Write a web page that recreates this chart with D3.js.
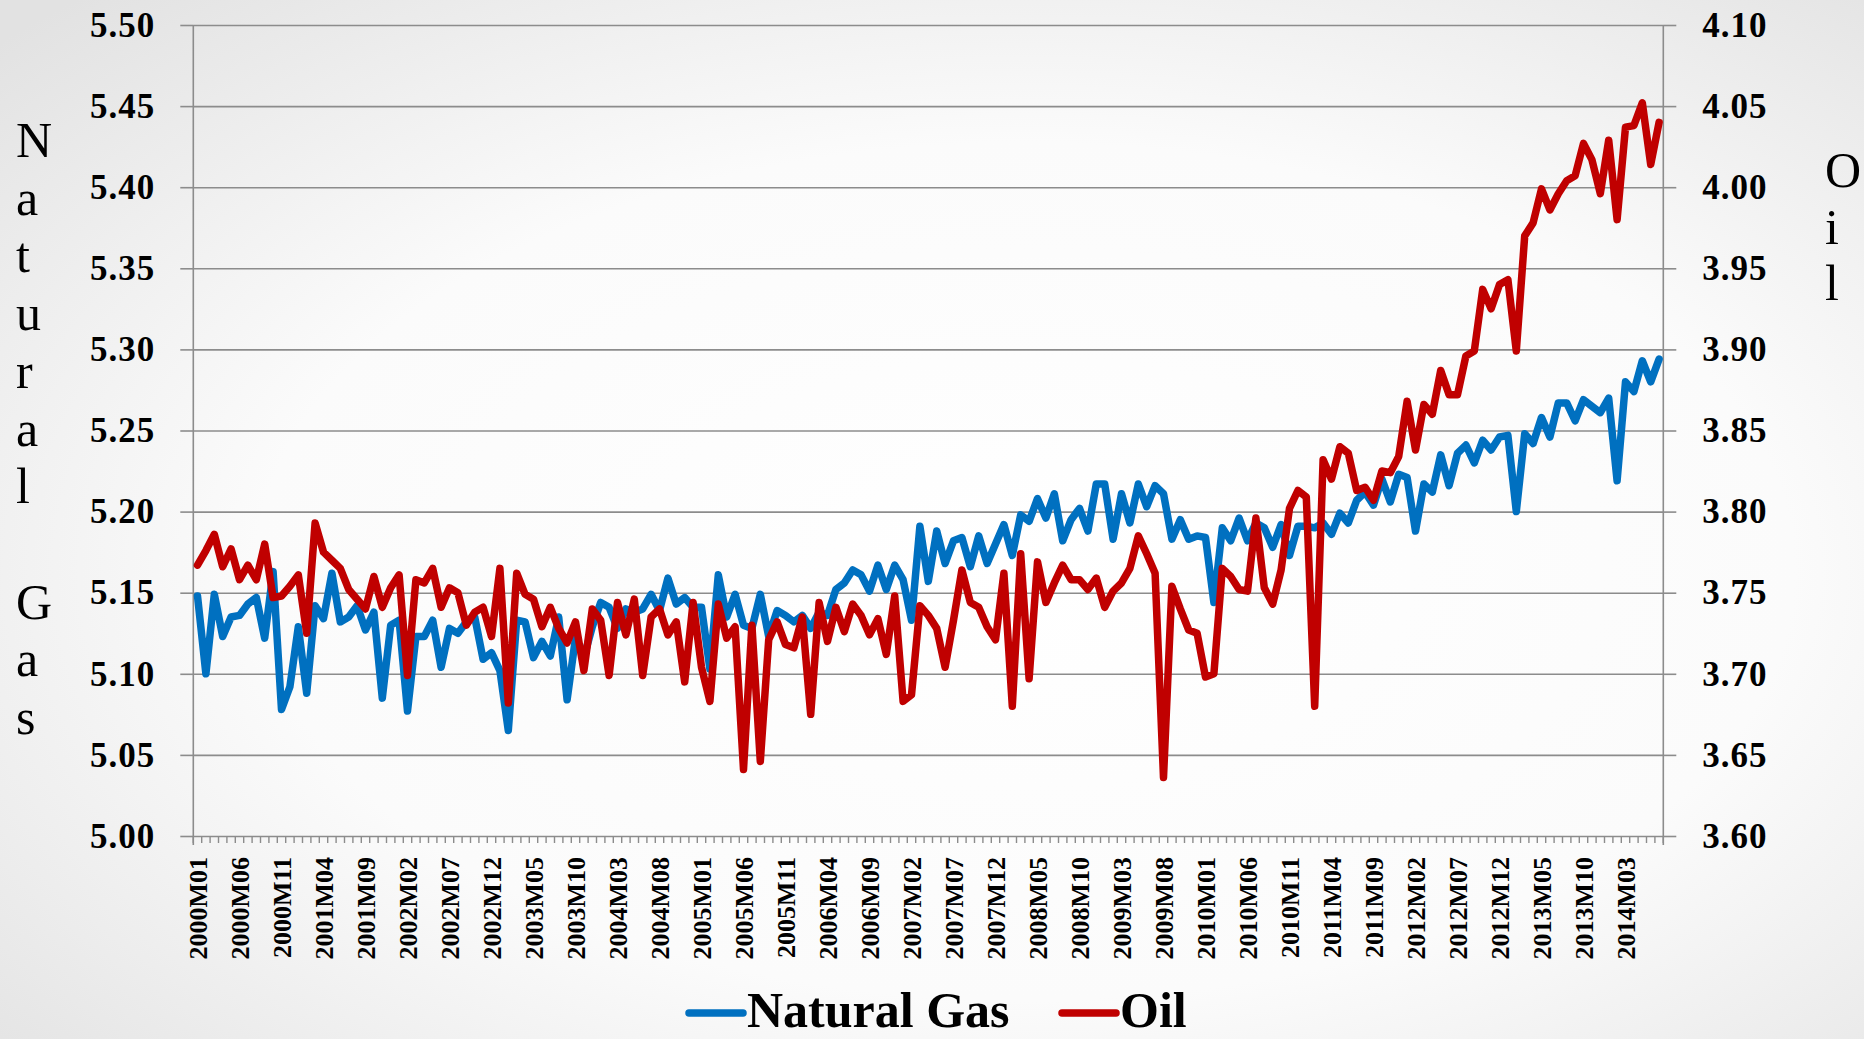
<!DOCTYPE html>
<html>
<head>
<meta charset="utf-8">
<script src="https://cdn.jsdelivr.net/npm/d3@7"></script>
<style>
  html, body { margin: 0; padding: 0; background: #ffffff; }
  svg { display: block; }
</style>
</head>
<body>
<svg id="chart" width="1864" height="1039"></svg>
<script>
// ---------------- DATA ----------------
const years = d3.range(2000, 2015);
const monthLabels = ["M01","M02","M03","M04","M05","M06","M07","M08","M09","M10","M11","M12"];
const categories = [];
years.forEach(y => monthLabels.forEach(m => { categories.push(y + m); }));
categories.splice(175); // 2000M01 .. 2014M07

const naturalGas = [
  5.148,5.100,5.149,5.123,5.135,5.136,5.143,5.147,5.122,5.163,
  5.078,5.092,5.129,5.088,5.142,5.134,5.162,5.132,5.135,5.142,
  5.127,5.138,5.085,5.130,5.133,5.077,5.123,5.123,5.133,5.104,
  5.128,5.125,5.132,5.135,5.109,5.113,5.102,5.065,5.133,5.132,
  5.110,5.120,5.111,5.135,5.084,5.122,5.110,5.129,5.144,5.141,
  5.128,5.140,5.138,5.140,5.149,5.139,5.159,5.143,5.147,5.141,
  5.141,5.103,5.161,5.135,5.149,5.130,5.128,5.149,5.123,5.139,
  5.136,5.132,5.136,5.128,5.138,5.136,5.152,5.156,5.164,5.161,
  5.151,5.167,5.152,5.167,5.158,5.133,5.191,5.157,5.188,5.168,
  5.182,5.184,5.166,5.185,5.168,5.180,5.192,5.173,5.198,5.194,
  5.208,5.196,5.211,5.182,5.195,5.202,5.188,5.217,5.217,5.183,
  5.211,5.193,5.217,5.203,5.216,5.211,5.183,5.195,5.183,5.185,
  5.184,5.144,5.190,5.182,5.196,5.182,5.193,5.190,5.178,5.192,
  5.173,5.191,5.191,5.190,5.193,5.186,5.199,5.193,5.207,5.212,
  5.204,5.220,5.206,5.223,5.221,5.188,5.217,5.212,5.235,5.216,
  5.236,5.241,5.230,5.244,5.238,5.246,5.247,5.200,5.248,5.242,
  5.258,5.246,5.267,5.267,5.256,5.269,5.265,5.261,5.270,5.219,
  5.280,5.274,5.293,5.280,5.294
];

const oil = [
  3.767,3.776,3.786,3.766,3.777,3.758,3.767,3.758,3.780,3.747,
  3.748,3.754,3.761,3.725,3.793,3.775,3.770,3.765,3.752,3.746,
  3.740,3.760,3.741,3.753,3.761,3.699,3.758,3.756,3.765,3.741,
  3.753,3.750,3.730,3.738,3.741,3.723,3.765,3.682,3.762,3.749,
  3.746,3.729,3.741,3.728,3.719,3.732,3.702,3.740,3.733,3.699,
  3.744,3.724,3.746,3.699,3.735,3.740,3.724,3.732,3.695,3.744,
  3.704,3.683,3.743,3.722,3.729,3.641,3.730,3.646,3.721,3.732,
  3.718,3.716,3.735,3.675,3.744,3.720,3.741,3.726,3.743,3.736,
  3.724,3.734,3.712,3.748,3.683,3.687,3.742,3.736,3.728,3.704,
  3.733,3.764,3.744,3.741,3.729,3.721,3.762,3.680,3.774,3.697,
  3.769,3.744,3.756,3.767,3.758,3.758,3.752,3.759,3.741,3.751,
  3.756,3.765,3.785,3.774,3.762,3.636,3.754,3.740,3.727,3.725,
  3.698,3.700,3.765,3.760,3.752,3.751,3.796,3.753,3.743,3.764,
  3.802,3.813,3.809,3.680,3.832,3.820,3.840,3.836,3.813,3.815,
  3.807,3.825,3.824,3.834,3.868,3.838,3.866,3.860,3.887,3.872,
  3.872,3.896,3.899,3.937,3.925,3.940,3.943,3.899,3.970,3.978,
  3.999,3.986,3.996,4.004,4.007,4.027,4.017,3.996,4.029,3.980,
  4.037,4.038,4.052,4.014,4.040
];

const leftTicks = [5.00,5.05,5.10,5.15,5.20,5.25,5.30,5.35,5.40,5.45,5.50];
const rightTicks = [3.60,3.65,3.70,3.75,3.80,3.85,3.90,3.95,4.00,4.05,4.10];
const xLabelEvery = 5;
const leftTitle = "Natural Gas";
const rightTitle = "Oil";
const seriesNames = ["Natural Gas", "Oil"];

// ---------------- LAYOUT ----------------
const W = 1864, H = 1039;
const plotL = 193.3, plotR = 1663.3, plotT = 25, plotB = 836;
const gridColor = "#8c8c8c";
const gasColor = "#0070C0", oilColor = "#C00000";
const serif = "'Liberation Serif', 'Times New Roman', serif";

const svg = d3.select("#chart");

// background radial gradient
const defs = svg.append("defs");
const rg = defs.append("radialGradient").attr("id", "bg")
  .attr("cx", "55%").attr("cy", "55%").attr("r", "75%");
rg.append("stop").attr("offset", "0%").attr("stop-color", "#ffffff");
rg.append("stop").attr("offset", "55%").attr("stop-color", "#fbfbfb");
rg.append("stop").attr("offset", "100%").attr("stop-color", "#e2e2e2");
svg.append("rect").attr("width", W).attr("height", H).attr("fill", "url(#bg)");

// scales
const x = d3.scaleBand().domain(categories).range([plotL, plotR]).paddingInner(0).paddingOuter(0);
const xc = d => x(d) + x.bandwidth() / 2;
const yL = d3.scaleLinear().domain([5.0, 5.5]).range([plotB, plotT]);
const yR = d3.scaleLinear().domain([3.6, 4.1]).range([plotB, plotT]);

// gridlines
const grid = svg.append("g").attr("transform", `translate(${plotL},0)`)
  .call(d3.axisLeft(yL).tickValues(leftTicks).tickSize(-(plotR - plotL)).tickFormat(""));
grid.select(".domain").remove();
grid.selectAll("line").attr("stroke", gridColor).attr("stroke-width", 1.6);

// left axis
const axL = svg.append("g").attr("transform", `translate(${plotL},0)`)
  .call(d3.axisLeft(yL).tickValues(leftTicks).tickSize(13).tickSizeOuter(0).tickPadding(25).tickFormat(d3.format(".2f")));
axL.select(".domain").remove();
axL.selectAll("line").attr("stroke", gridColor).attr("stroke-width", 1.6);
axL.selectAll("text").attr("font-family", serif).attr("font-weight", "bold")
  .attr("font-size", 35).attr("letter-spacing", 1).attr("fill", "#000");

// right axis
const axR = svg.append("g").attr("transform", `translate(${plotR},0)`)
  .call(d3.axisRight(yR).tickValues(rightTicks).tickSize(13).tickSizeOuter(0).tickPadding(26).tickFormat(d3.format(".2f")));
axR.select(".domain").remove();
axR.selectAll("line").attr("stroke", gridColor).attr("stroke-width", 1.6);
axR.selectAll("text").attr("font-family", serif).attr("font-weight", "bold")
  .attr("font-size", 35).attr("letter-spacing", 1).attr("fill", "#000");

// vertical axis lines
[plotL, plotR].forEach(px => {
  svg.append("line").attr("x1", px).attr("x2", px).attr("y1", plotT).attr("y2", plotB + 9)
    .attr("stroke", gridColor).attr("stroke-width", 1.6);
});

// x axis minor ticks at category boundaries
const boundaries = categories.map(c => x(c)).concat([plotR]);
svg.append("g").selectAll("line").data(boundaries).join("line")
  .attr("x1", d => d).attr("x2", d => d)
  .attr("y1", plotB).attr("y2", plotB + 7)
  .attr("stroke", gridColor).attr("stroke-width", 1.4);

// x labels
const xLabels = categories.filter((c, i) => i % xLabelEvery === 0);
svg.append("g").selectAll("text").data(xLabels).join("text")
  .attr("transform", d => `translate(${xc(d)},${plotB + 21}) rotate(-90)`)
  .attr("text-anchor", "end").attr("dy", "0.35em")
  .attr("font-family", serif).attr("font-weight", "bold").attr("font-size", 26)
  .attr("fill", "#000").text(d => d);

// lines
const lineGas = d3.line().x((d, i) => xc(categories[i])).y(d => yL(d));
const lineOil = d3.line().x((d, i) => xc(categories[i])).y(d => yR(d));
svg.append("path").datum(naturalGas).attr("d", lineGas)
  .attr("fill", "none").attr("stroke", gasColor).attr("stroke-width", 7.5)
  .attr("stroke-linejoin", "round").attr("stroke-linecap", "round");
svg.append("path").datum(oil).attr("d", lineOil)
  .attr("fill", "none").attr("stroke", oilColor).attr("stroke-width", 7.5)
  .attr("stroke-linejoin", "round").attr("stroke-linecap", "round");

// axis titles (stacked letters)
const lt = svg.append("text").attr("font-family", serif).attr("font-size", 50).attr("fill", "#000");
leftTitle.split("").forEach((ch, k) => {
  lt.append("tspan").attr("x", 16).attr("y", 157 + 57.7 * k).text(ch === " " ? "\u00a0" : ch);
});
const rt = svg.append("text").attr("font-family", serif).attr("font-size", 50).attr("fill", "#000");
rightTitle.split("").forEach((ch, k) => {
  rt.append("tspan").attr("x", 1825).attr("y", 187 + 56.5 * k).text(ch);
});

// legend
const legendItems = [
  { name: seriesNames[0], color: gasColor, x1: 689, x2: 743, tx: 747 },
  { name: seriesNames[1], color: oilColor, x1: 1062, x2: 1116, tx: 1120 }
];
const lg = svg.append("g");
legendItems.forEach(it => {
  lg.append("line").attr("x1", it.x1).attr("x2", it.x2).attr("y1", 1013).attr("y2", 1013)
    .attr("stroke", it.color).attr("stroke-width", 7.5).attr("stroke-linecap", "round");
  lg.append("text").attr("x", it.tx).attr("y", 1027)
    .attr("font-family", serif).attr("font-weight", "bold").attr("font-size", 50)
    .attr("fill", "#000").text(it.name);
});
</script>
</body>
</html>
